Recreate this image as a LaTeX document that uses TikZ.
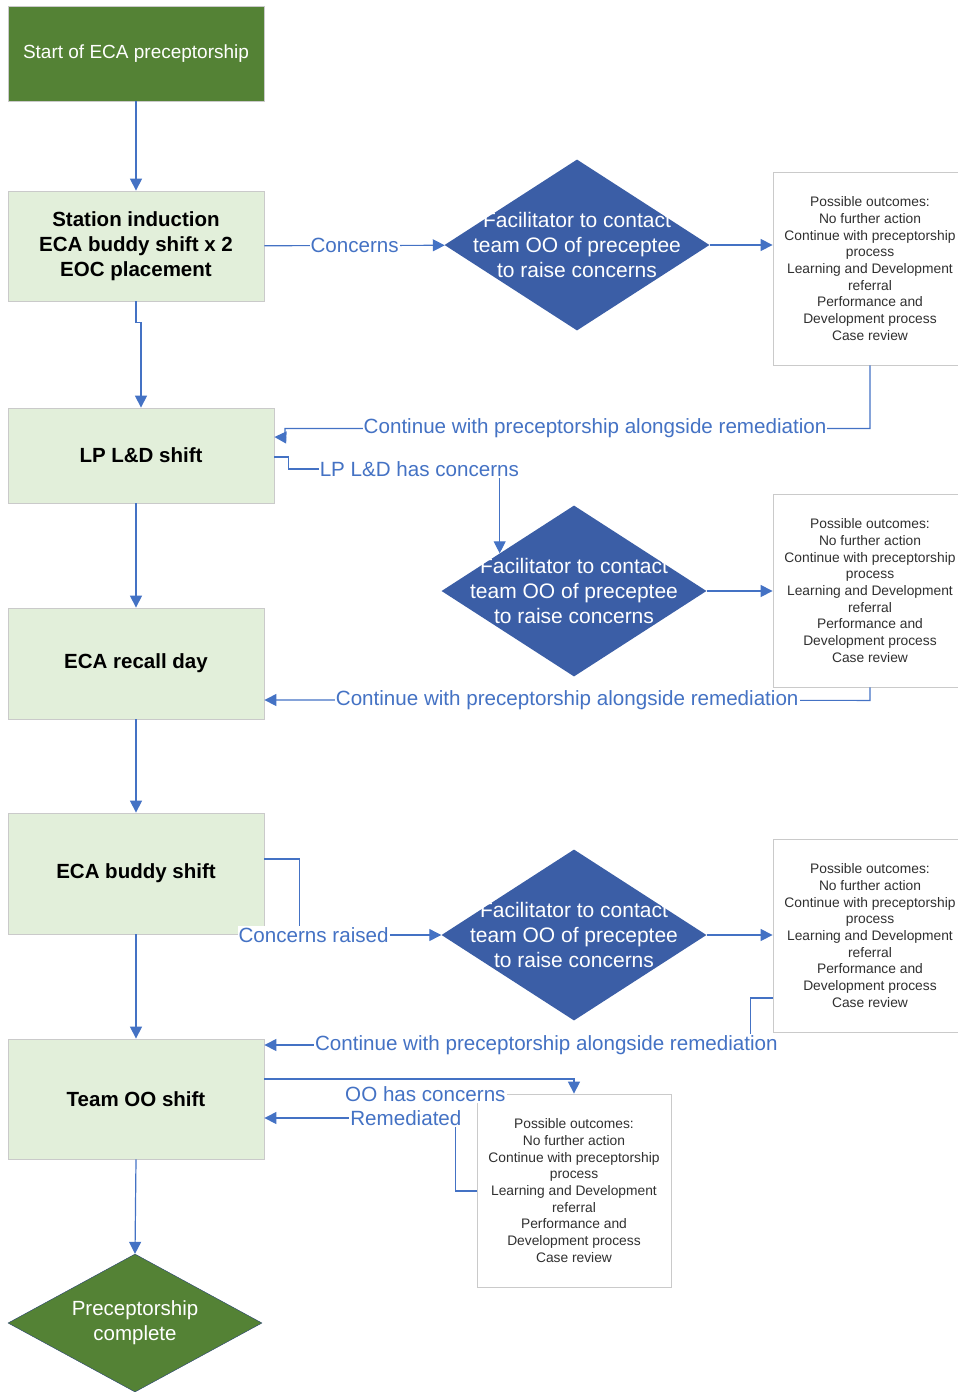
\documentclass[tikz,border=0pt]{standalone}
\usepackage{fontspec}
\setmainfont{Liberation Sans}
\usetikzlibrary{shapes.geometric, arrows.meta, calc}
\definecolor{startgreen}{HTML}{548235}
\definecolor{boxgreen}{HTML}{E2EFDA}
\definecolor{boxgrey}{HTML}{CACACA}
\definecolor{facblue}{HTML}{3B5EA6}
\definecolor{linkblue}{HTML}{4472C4}
\definecolor{outtext}{HTML}{303030}

\tikzset{
    startbox/.style = {fill = startgreen, draw = boxgrey, line width = 0.8pt, inner sep = 0pt, text = white,
        font = \fontsize{19}{23}\selectfont},
    stagebox/.style = {fill = boxgreen, draw = boxgrey, line width = 0.8pt, inner sep = 0pt, align = center,
        font = \fontsize{20.5}{25}\selectfont\bfseries},
    facdiamond/.style = {diamond, fill = facblue, minimum width = 265pt, minimum height = 171pt, inner sep = 0pt},
    factext/.style = {text = white, align = center, font = \fontsize{21}{25}\selectfont},
    outbox/.style = {draw = boxgrey, fill = white, line width = 0.8pt, minimum width = 194pt, minimum height = 193pt,
        inner sep = 0pt, align = center, text = outtext, font = \fontsize{13.8}{16.7}\selectfont},
    link/.style = {draw = linkblue, line width = 1.2pt, -{Triangle[length = 12pt, width = 12pt]}},
    lbl/.style = {fill = white, text = linkblue, inner sep = 1pt, font = \fontsize{20.6}{25}\selectfont}
}

\def\outcomes{Possible outcomes:\\No further action\\Continue with preceptorship\\process\\Learning and Development\\referral\\Performance and\\Development process\\Case review}
\def\factxt{Facilitator to contact\\team OO of preceptee\\to raise concerns}

\begin{document}
\begin{tikzpicture}[x = 1pt, y = -1pt]
    \useasboundingbox (0,0) rectangle (958,1392);

    %% left column
    \node [startbox, minimum width = 256, minimum height = 95] (start) at (136,53.5) {Start of ECA preceptorship};
    \node [stagebox, minimum width = 256, minimum height = 110] (induction) at (136,246) {Station induction\\ECA buddy shift x 2\\EOC placement};
    \node [stagebox, minimum width = 266, minimum height = 95] (lpshift) at (141,455.5) {LP L\&D shift};
    \node [stagebox, minimum width = 256, minimum height = 111] (recall) at (136,663.5) {ECA recall day};
    \node [stagebox, minimum width = 256, minimum height = 121] (buddy) at (136,873.5) {ECA buddy shift};
    \node [stagebox, minimum width = 256, minimum height = 120] (teamoo) at (136,1099) {Team OO shift};
    \node [diamond, fill = startgreen, draw = facblue!70!black, minimum width = 254, minimum height = 138, inner sep = 0pt,
        label = {[factext, font = \fontsize{20.5}{25}\selectfont]center:{Preceptorship\\complete}}] (complete) at (135,1323) {};

    %% facilitator diamonds
    \node [facdiamond, label = {[factext]center:{\factxt}}] (fac1) at (577,245) {};
    \node [facdiamond, label = {[factext]center:{\factxt}}] (fac2) at (574,591) {};
    \node [facdiamond, label = {[factext]center:{\factxt}}] (fac3) at (574,935) {};

    %% outcome boxes
    \node [outbox] (out1) at (870,268.5) {\outcomes};
    \node [outbox] (out2) at (870,590.5) {\outcomes};
    \node [outbox] (out3) at (870,935.5) {\outcomes};
    \node [outbox] (out4) at (574,1190.5) {\outcomes};

    %% main flow
    \draw [link] (start) -- (induction);
    \draw [link] (induction.south) -- ++(0,21) -| (lpshift.north);
    \draw [link] (recall.north |- lpshift.south) -- (recall.north);
    \draw [link] (recall) -- (buddy);
    \draw [link] (buddy) -- (teamoo);
    \draw [link] (teamoo.south) -- (complete.north);

    %% concerns
    \draw [link] (induction) -- node [lbl] {Concerns} (fac1);
    \draw [link] (fac1.east) -- (fac1.east -| out1.west);
    \draw [link] (out1.south) -- ++(0,63) -- node [lbl, pos = 0.47] {Continue with preceptorship alongside remediation} ++(-585,0)
        -- ++(0,9) -- ([yshift = 18.5pt]lpshift.east);

    \draw [link] ([yshift = -1.5pt]lpshift.east) -- ++(14,0) -- ++(0,12)
        -| node [lbl, pos = 0.31] {LP L\&D has concerns} ($(fac2.west)!0.44!(fac2.north)$);
    \draw [link] (fac2.east) -- (fac2.east -| out2.west);
    \draw [link] (out2.south) -- ++(0,13) -- node [lbl] {Continue with preceptorship alongside remediation} ([yshift = -36.5pt]recall.east);

    \draw [link] ([yshift = 14.5pt]buddy.east) -- ++(35,0) |- node [lbl, pos = 0.55] {Concerns raised} (fac3.west);
    \draw [link] (fac3.east) -- (fac3.east -| out3.west);
    \draw [link] ([yshift = -62.5pt]out3.west) -- ++(-22,0)
        |- node [lbl, pos = 0.71] {Continue with preceptorship alongside remediation} ([yshift = 54pt]teamoo.east);

    \draw [link] ([yshift = 20pt]teamoo.east) -| node [lbl, pos = 0.26, yshift = -15pt] {OO has concerns} (out4.north);
    \draw [link] ([yshift = -0.5pt]out4.west) -- ++(-21,0) |- node [lbl, pos = 0.63] {Remediated} ([yshift = -19pt]teamoo.east);
\end{tikzpicture}
\end{document}
